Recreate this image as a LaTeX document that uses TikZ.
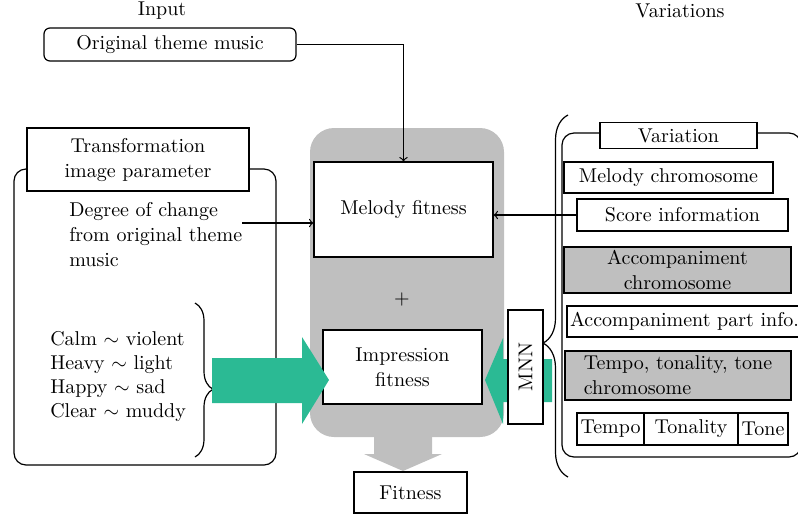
\documentclass[tikz,border=0pt]{standalone}
\usepackage{amsmath}
\usepackage{tikz}
\usetikzlibrary{decorations.pathreplacing}
\definecolor{c_gray}{rgb}{0.75, 0.75, 0.75}
\definecolor{c_green}{rgb}{0.17, 0.73, 0.58}
\tikzset{c-box/.style={rectangle, draw=black, fill=white, inner sep=1pt, align=center},
c-graybox/.style={c-box, fill=c_gray},
c-frame/.style={rectangle, rounded corners=6pt, draw=black},
c-brace/.style={decorate, decoration={brace, amplitude=#1}},
c-brace/.default=8pt,
arrow/.style={->,>=to}}

\begin{document}
\begin{tikzpicture}[x=0.5pt, y=-0.5pt, line width=0.6pt, font=\fontsize{10}{12.5}\selectfont]
\useasboundingbox (0,0) rectangle (798,516);
\node (n-input) at (162,11) {Input};
\node (n-variations) at (680,11) {Variations};
\node (n-theme) [c-box, rounded corners=3pt, minimum width=126pt, minimum height=16.5pt] at (170,44.5) {Original theme music};
% evaluation part
\node (n-eval) [rectangle, rounded corners=12pt, fill=c_gray, minimum width=97pt, minimum height=154.5pt] at (407,282.5) {};
\fill [c_gray] (374,430) -- (432,430) -- (432,454) -- (442,454) -- (403,471) -- (364,454) -- (374,454) -- cycle;
\node (n-melody) [c-box, minimum width=89.5pt, minimum height=47.5pt] at (403.5,209.5) {Melody fitness};
\node (n-plus) at (402,299) {+};
\node (n-impression) [c-box, minimum width=79.5pt, minimum height=37pt] at (402.5,367) {Impression\\fitness};
\node (n-fitness) [c-box, minimum width=56.5pt, minimum height=20.5pt] at (410.5,492.5) {Fitness};
% transformation image parameter
\node (n-param) [c-frame, minimum width=131pt, minimum height=148pt] at (145,317) {};
\node (n-param-title) [c-box, minimum width=111pt, minimum height=31.5pt] at (138,159.5) {Transformation\\image parameter};
\node (n-degree) [anchor=west, align=left] at (62,235) {Degree of change\\from original theme\\music};
\node (n-impr-list) [anchor=west, align=left, font=\fontsize{10}{12}\selectfont] at (43,376) {Calm $\sim$ violent\\Heavy $\sim$ light\\Happy $\sim$ sad\\Clear $\sim$ muddy};
\draw [c-brace=9pt, decoration={aspect=0.56}] (195,303) -- (195,457);
\coordinate (c-degree) at (242,223);
% variations
\draw [c-brace=12.5pt, decoration={aspect=0.37}] (568,477) -- (568,115);
\node (n-var-frame) [c-frame, minimum width=119.5pt, minimum height=162pt] at (681.5,295) {};
\node (n-var-title) [c-box, minimum width=78.5pt, minimum height=13pt] at (678.5,135.5) {Variation};
\node (n-mel-chrom) [c-box, minimum width=104.5pt, minimum height=15.5pt] at (668.5,177.5) {Melody chromosome};
\node (n-score) [c-box, minimum width=105.5pt, minimum height=16pt] at (682.5,215) {Score information};
\node (n-acc-chrom) [c-graybox, minimum width=113.5pt, minimum height=23pt] at (677.5,270) {Accompaniment\\chromosome};
\node (n-acc-part) [c-box, minimum width=117.5pt, minimum height=15.5pt] at (684.5,321.5) {Accompaniment part info.};
\node (n-ttt-chrom) [c-graybox, align=left, minimum width=113pt, minimum height=24.5pt] at (678,375.5) {Tempo, tonality, tone\\chromosome};
\node (n-tempo) [c-box, minimum width=33.5pt, minimum height=16pt] at (610.5,429) {Tempo};
\node (n-tonality) [c-box, minimum width=47pt, minimum height=16pt] at (691,429) {Tonality};
\node (n-tone) [c-box, minimum width=25pt, minimum height=16pt] at (763,429) {Tone};
% green arrows
\fill [c_green] (212,358) -- (302,358) -- (302,337) -- (329,380) -- (302,424) -- (302,403) -- (212,403) -- cycle;
\fill [c_green] (552,359) -- (503,359) -- (503,338) -- (485,380) -- (503,424) -- (503,402) -- (552,402) -- cycle;
\node (n-mnn) [c-box, rotate=90, minimum width=57pt, minimum height=17.5pt] at (525.5,367) {MNN};
% connectors
\draw [arrow] (n-theme.east) -| (n-melody.north);
\draw [arrow] (c-degree) -- (c-degree -| n-melody.west);
\draw [arrow] (n-score.west) -- (n-score.west -| n-melody.east);
\end{tikzpicture}
\end{document}
